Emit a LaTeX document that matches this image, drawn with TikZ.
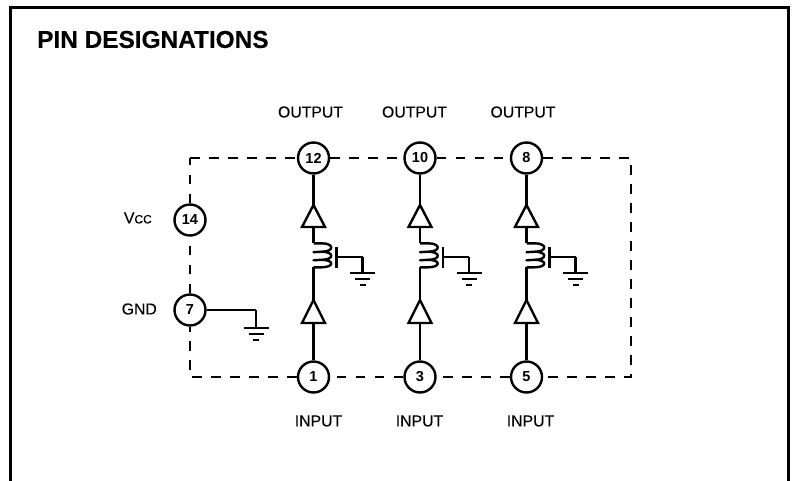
\documentclass[tikz,border=0pt]{standalone}
\usepackage{fontspec}
\setmainfont{Liberation Sans}
\newfontfamily\labelfont[FakeBold=0.12]{Liberation Sans}
\newfontfamily\titlefont[FakeBold=0.35]{Liberation Sans Bold}
\usetikzlibrary{calc}
\tikzset{
  pin/.style={circle,draw,line width=2.4pt,minimum size=31pt,inner sep=0pt,fill=white,font=\fontsize{14.5}{14.5}\selectfont\bfseries},
  lbl/.style={inner sep=0pt,font=\fontsize{15.8}{16}\labelfont},
  wire/.style={line width=2.4pt,line join=miter},
  dash wire/.style={line width=2.6pt,dash pattern=on 9.5pt off 9.5pt},
  frame/.style={line width=3pt}
}
% #1 x, #2 y of the wire end, #3 y of the first bar, #4 name
\newcommand{\earth}[4]{%
  \coordinate (#4) at (#1,#2);
  \draw[wire] (#4) -- (#1,#3);
  \draw[wire] ($(#1,#3)+(-12.5,0)$) -- ++(25,0);
  \draw[wire] ($(#1,#3)+(-7.5,6)$) -- ++(15,0);
  \draw[wire,line width=2.6pt] ($(#1,#3)+(-3,12)$) -- ++(6,0);
}
% #1 x, #2 top pin, #3 bottom pin, #4 short name
\newcommand{\column}[4]{%
  \begin{scope}[shift={(#1,0)}]
  \coordinate (ta#4) at (0,205);
  \coordinate (tb#4) at (0,227);
  \coordinate (ca#4) at (0,243.3);
  \coordinate (cb#4) at (0,267.3);
  \coordinate (ua#4) at (0,323);
  \coordinate (ub#4) at (0,300);
  \draw[wire] (#2) -- (ta#4);
  \draw[wire] (ta#4) -- (11.5,227) -- (-11.5,227) -- cycle;
  \draw[wire] (tb#4) -- (ca#4);
  \draw[wire,line join=round] (ca#4) -- (8,243.3)
     .. controls (21,243.3) and (21,251.7) .. (8,251.7) -- (0,252.2) -- (8,251.7)
     .. controls (21,251.7) and (21,259.8) .. (8,259.8) -- (0,260.3) -- (8,259.8)
     .. controls (21,259.8) and (21,267.3) .. (8,267.3) -- (cb#4);
  \draw[wire] (cb#4) -- (ub#4);
  \draw[wire] (ub#4) -- (11.5,323) -- (-11.5,323) -- cycle;
  \draw[wire] (ua#4) -- (#3);
  \coordinate (ba#4) at (23,247);
  \coordinate (bb#4) at (23,268);
  \coordinate (bc#4) at (23,257);
  \coordinate (bd#4) at (49,257);
  \draw[wire] (ba#4) -- (bb#4);
  \draw[wire] (bc#4) -- (bd#4);
  \earth{49}{257}{273}{g#4}
  \end{scope}
}
\begin{document}
\begin{tikzpicture}[x=1pt,y=-1pt]
\useasboundingbox (0,0) rectangle (795,481);
\coordinate (fa) at (10,481);
\coordinate (fb) at (10,8);
\coordinate (fc) at (788,8);
\coordinate (fd) at (788,481);
\draw[frame] (fa) -- (fb) -- (fc) -- (fd);
\node[anchor=west,inner sep=0pt,font=\fontsize{24.4}{25}\titlefont] (title) at (37,39.5) {PIN DESIGNATIONS};

\coordinate (tl) at (190,158);
\coordinate (tr) at (631,158);
\coordinate (bl) at (190,377);
\coordinate (br) at (631,377);

\node[pin] (p12) at (313.5,158) {12};
\node[pin] (p10) at (420,158) {10};
\node[pin] (p8)  at (526.5,158) {8};
\node[pin] (p14) at (190,220) {14};
\node[pin] (p7)  at (190,310) {7};
\node[pin] (p1)  at (313.5,377) {1};
\node[pin] (p3)  at (420,377) {3};
\node[pin] (p5)  at (526.5,377) {5};

\draw[dash wire] (tl) -- (p12);
\draw[dash wire] (p12) -- (p10);
\draw[dash wire] (p10) -- (p8);
\draw[dash wire] (p8) -- (tr) -- (br) -- (p5);
\draw[dash wire] (p5) -- (p3);
\draw[dash wire] (p3) -- (p1);
\draw[dash wire] (p1) -- (bl) -- (p7);
\draw[dash wire] (p7) -- (p14);
\draw[dash wire] (p14) -- (tl);

\column{313.5}{p12}{p1}{a}
\column{420}{p10}{p3}{b}
\column{526.5}{p8}{p5}{c}

\coordinate (gnda) at (256,310);
\draw[wire] (p7) -- (gnda);
\earth{256}{310}{328}{gndb}

\node[lbl] (o1) at (310.5,112) {OUTPUT};
\node[lbl] (o2) at (414.5,112) {OUTPUT};
\node[lbl] (o3) at (523,112) {OUTPUT};
\node[lbl] (i1) at (318.5,421) {INPUT};
\node[lbl] (i2) at (419.5,421) {INPUT};
\node[lbl] (i3) at (530.5,421) {INPUT};
\node[lbl,anchor=east] (vcc) at (152,218) {V{\fontsize{12}{12}\labelfont CC}};
\node[lbl,anchor=east] (gnd) at (157,309) {GND};
\end{tikzpicture}
\end{document}
